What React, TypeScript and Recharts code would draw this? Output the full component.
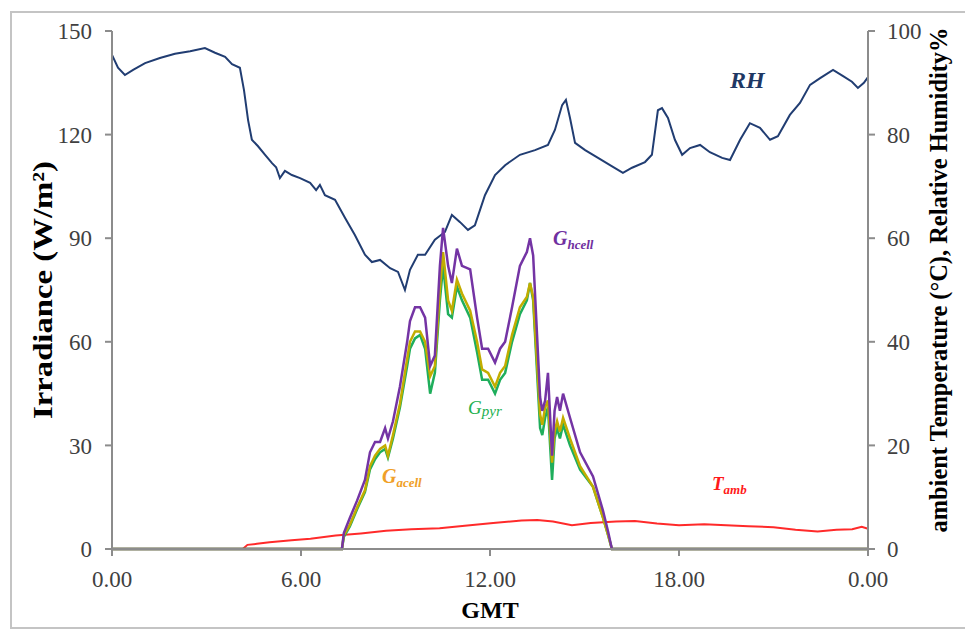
import { LineChart, Line, XAxis, YAxis } from 'recharts';

// GMT hours for the irradiance series
const gTimes = [
  0, 7.3, 7.36, 7.55, 7.78, 8.03, 8.19, 8.35, 8.51, 8.67, 8.76, 8.92, 9.14, 9.37, 9.46, 9.62,
  9.78, 9.94, 10.1, 10.25, 10.41, 10.51, 10.67, 10.79, 10.95, 11.11, 11.37, 11.59, 11.75,
  11.94, 12.16, 12.32, 12.48, 12.7, 12.95, 13.17, 13.27, 13.37, 13.59, 13.66, 13.75, 13.84,
  13.97, 14.05, 14.13, 14.22, 14.32, 14.54, 14.86, 15.27, 15.59, 15.75, 15.87, 24,
];
const gHcell = [
  0, 0, 4.6, 9, 14, 20, 28, 31, 31, 35, 32, 37, 47, 60, 66, 70,
  70, 67, 53, 56, 82, 93, 82, 77, 87, 82, 81, 67, 58,
  58, 54, 58, 60, 70, 82, 86, 90, 85, 44, 40, 43, 51,
  27, 40, 44, 40, 45, 38, 28, 21, 11, 5, 0, 0,
];
const gAcell = [
  0, 0, 4, 7, 12, 17, 24, 27, 29, 30, 27, 33, 42, 55, 60, 63,
  63, 60, 50, 53, 75, 86, 72, 69, 78, 74, 69, 60, 52,
  51, 47, 51, 53, 62, 70, 73, 77, 73, 39, 36, 41, 43,
  25, 34, 37, 34, 38, 32, 24, 18, 9, 4, 0, 0,
];
const gPyr = [
  0, 0, 3.5, 6.5, 11.5, 16.5, 23, 26, 28, 29, 26.5, 32, 41, 53, 58, 61,
  62, 58, 45, 51, 72, 82, 68, 67, 76, 72, 67, 57, 49,
  49, 45, 49, 51, 60, 68, 72, 77, 72, 35, 33, 38, 41,
  20, 32, 35, 32, 36, 30, 23, 18, 9, 4, 0, 0,
];

// relative humidity (%)
const rhTimes = [
  0, 0.19, 0.41, 0.67, 1.05, 1.52, 2.0, 2.48, 2.95, 3.27, 3.59, 3.81, 4.06, 4.19, 4.32, 4.44,
  4.63, 4.86, 5.08, 5.21, 5.33, 5.49, 5.71, 5.97, 6.29, 6.48, 6.6, 6.76, 7.08, 7.4, 7.71,
  8.03, 8.25, 8.51, 8.83, 9.08, 9.3, 9.46, 9.71, 9.94, 10.25, 10.57, 10.79, 11.05, 11.3,
  11.52, 11.84, 12.16, 12.48, 12.95, 13.43, 13.84, 14.06, 14.29, 14.41, 14.54, 14.7, 15.02,
  15.43, 15.81, 16.22, 16.51, 16.92, 17.14, 17.33, 17.46, 17.65, 17.87, 18.1, 18.35, 18.67,
  18.98, 19.37, 19.62, 19.94, 20.25, 20.57, 20.89, 21.14, 21.52, 21.84, 22.16, 22.48, 22.89,
  23.21, 23.49, 23.68, 23.87, 24,
];
const rhValues = [
  95.4, 92.9, 91.5, 92.5, 93.8, 94.8, 95.6, 96.1, 96.7, 95.8, 95.0, 93.6, 92.9, 88.6, 82.8, 79.0,
  77.8, 76.1, 74.5, 73.7, 71.6, 73.0, 72.2, 71.6, 70.7, 69.3, 70.3, 68.3, 67.4, 63.9, 60.6,
  56.8, 55.4, 55.8, 54.2, 53.5, 50.0, 53.9, 56.8, 56.8, 59.7, 61.2, 64.5, 63.1, 61.6,
  62.5, 68.3, 72.2, 74.1, 76.1, 77.0, 78.0, 80.9, 85.7, 86.7, 83.2, 78.4, 77.0,
  75.5, 74.1, 72.6, 73.6, 74.7, 76.1, 84.7, 85.1, 83.2, 79.0, 76.1, 77.4, 78.0,
  76.6, 75.5, 75.1, 79.0, 82.2, 81.3, 79.0, 79.7, 83.8, 86.1, 89.6, 90.9, 92.5,
  91.3, 90.2, 89.0, 90.0, 91.1,
];

// ambient temperature (°C)
const tambTimes = [
  0, 4.15, 4.3, 4.6, 5.0, 5.7, 6.3, 7.1, 7.9, 8.7, 9.5, 10.4, 11.2, 12.1, 13.0, 13.5, 14.0,
  14.6, 15.2, 16.0, 16.6, 17.3, 18.0, 18.8, 19.5, 20.2, 21.0, 21.7, 22.4, 23.0, 23.5, 23.8, 24,
];
const tambValues = [
  0, 0, 0.8, 1.0, 1.3, 1.7, 2.0, 2.6, 3.0, 3.5, 3.8, 4.0, 4.5, 5.0, 5.5, 5.6, 5.3,
  4.6, 5.0, 5.3, 5.4, 4.9, 4.6, 4.8, 4.6, 4.4, 4.2, 3.7, 3.4, 3.7, 3.8, 4.3, 3.9,
];

const xTicks = [0, 6, 12, 18, 24];
const leftTicks = [0, 30, 60, 90, 120, 150];
const rightTicks = [0, 20, 40, 60, 80, 100];

const zip = (times: number[], values: number[]) => times.map((t, i) => ({ t, v: values[i] }));

const hcellData = zip(gTimes, gHcell);
const acellData = zip(gTimes, gAcell);
const pyrData = zip(gTimes, gPyr);
const rhData = zip(rhTimes, rhValues);
const tambData = zip(tambTimes, tambValues);

const FONT = '"Liberation Serif", "Times New Roman", serif';
const tickStyle = { fontFamily: FONT, fontSize: 23, fill: '#404040' };
const axisLine = { stroke: '#8c8c8c', strokeWidth: 2 };

const App = () => {
  return (
    <div style={{ position: 'absolute', left: 0, top: 0, width: 965, height: 633, background: '#fff' }}>
      <div
        style={{
          position: 'absolute', left: 10, top: 11, width: 960, height: 618,
          border: '2px solid #c4c4c4', boxSizing: 'border-box',
        }}
      />
      <LineChart width={965} height={633} margin={{ top: 31, right: 0, bottom: 0, left: 0 }}>
        <XAxis
          dataKey="t"
          type="number"
          domain={[0, 24]}
          ticks={xTicks}
          tickFormatter={(v: number) => (v === 24 ? '0.00' : v.toFixed(2))}
          height={84}
          tick={tickStyle}
          tickSize={7}
          tickMargin={15}
          axisLine={axisLine}
          tickLine={axisLine}
          allowDuplicatedCategory={false}
        />
        <YAxis
          yAxisId="left"
          domain={[0, 150]}
          ticks={leftTicks}
          width={112}
          tick={tickStyle}
          tickSize={7}
          tickMargin={13}
          axisLine={axisLine}
          tickLine={axisLine}
        />
        <YAxis
          yAxisId="right"
          orientation="right"
          domain={[0, 100]}
          ticks={rightTicks}
          width={97}
          tick={{ ...tickStyle, textAnchor: 'start' }}
          tickSize={7}
          tickMargin={12}
          axisLine={axisLine}
          tickLine={axisLine}
        />
        <Line data={tambData} yAxisId="right" dataKey="v" stroke="#ff2a2a" strokeWidth={2} dot={false} isAnimationActive={false} />
        <Line data={rhData} yAxisId="right" dataKey="v" stroke="#213d72" strokeWidth={2} dot={false} isAnimationActive={false} />
        <Line data={pyrData} yAxisId="left" dataKey="v" stroke="#1fae5c" strokeWidth={2.5} dot={false} isAnimationActive={false} />
        <Line data={acellData} yAxisId="left" dataKey="v" stroke="#c2ad00" strokeWidth={2.5} dot={false} isAnimationActive={false} />
        <Line data={hcellData} yAxisId="left" dataKey="v" stroke="#7434a4" strokeWidth={2.5} dot={false} isAnimationActive={false} />
      </LineChart>
      <svg width={965} height={633} style={{ position: 'absolute', left: 0, top: 0, pointerEvents: 'none' }}>
        <g fontFamily={FONT} fontWeight="bold" fill="#000">
          <text
            x={52} y={290} transform="rotate(-90 52 290)" textAnchor="middle"
            fontSize={28} textLength={258} lengthAdjust="spacingAndGlyphs"
          >
            Irradiance (W/m²)
          </text>
          <text
            x={947} y={280} transform="rotate(-90 947 280)" textAnchor="middle"
            fontSize={25} textLength={505} lengthAdjust="spacingAndGlyphs"
          >
            ambient Temperature (°C), Relative Humidity%
          </text>
          <text x={490} y={618} textAnchor="middle" fontSize={24}>GMT</text>
        </g>
        <g fontFamily={FONT} fontStyle="italic" fontWeight="bold">
          <text x={730} y={88} fontSize={24} fill="#1f3864">RH</text>
          <text x={553} y={245} fontSize={20} fill="#7030a0">
            G<tspan fontSize={13} dy={4}>hcell</tspan>
          </text>
          <text x={382} y={483} fontSize={20} fill="#f0a028">
            G<tspan fontSize={13} dy={4}>acell</tspan>
          </text>
          <text x={468} y={414} fontSize={19} fill="#22b050" fontWeight="normal">
            G<tspan fontSize={15} dy={2}>pyr</tspan>
          </text>
          <text x={712} y={490} fontSize={19} fill="#ff1a1a">
            T<tspan fontSize={13} dy={4}>amb</tspan>
          </text>
        </g>
      </svg>
    </div>
  );
};

export default App;
